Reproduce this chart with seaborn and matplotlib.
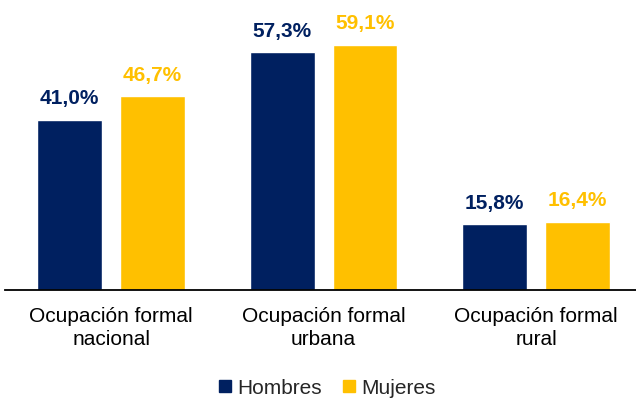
import matplotlib
matplotlib.use("Agg")
import matplotlib.pyplot as plt
from matplotlib.lines import Line2D
import seaborn as sns
import pandas as pd

categories = ["Ocupación formal\nnacional", "Ocupación formal\nurbana", "Ocupación formal\nrural"]
hombres = [41.0, 57.3, 15.8]
mujeres = [46.7, 59.1, 16.4]
series = ["Hombres", "Mujeres"]
colors = ["#002060", "#FFC000"]

df = pd.DataFrame({
    "categoria": categories * 2,
    "valor": hombres + mujeres,
    "sexo": [series[0]] * 3 + [series[1]] * 3,
})

sns.set_theme(style="white")
plt.rcParams["font.family"] = ["Liberation Sans", "DejaVu Sans"]

W, H = 636, 401
fig = plt.figure(figsize=(W / 100, H / 100), dpi=100)
ymax = 68
px_per_unit = 4.146
ax = fig.add_axes([5 / W, 1 - 290 / H, 1 - 5 / W, ymax * px_per_unit / H])

sns.barplot(data=df, x="categoria", y="valor", hue="sexo", palette=colors,
            width=0.78, gap=0.22, ax=ax, legend=False, saturation=1)

for container, col in zip(ax.containers, colors):
    labels = [f"{v:.1f}%".replace(".", ",") for v in container.datavalues]
    ax.bar_label(container, labels=labels, padding=8.5, color=col,
                 fontsize=15, fontweight="bold")

ax.set_xlim(-0.5, 2.47)
ax.set_ylim(0, ymax)
ax.set_xlabel("")
ax.set_ylabel("")
ax.set_yticks([])
ax.tick_params(axis="x", length=0, pad=12, labelsize=15, colors="black")
for t in ax.get_xticklabels():
    t.set_linespacing(1.3)
for s in ["top", "right", "left"]:
    ax.spines[s].set_visible(False)
ax.spines["bottom"].set_color("black")
ax.spines["bottom"].set_linewidth(1.3)

handles = [Line2D([], [], marker="s", linestyle="none", markersize=8,
                  markerfacecolor=c, markeredgecolor=c) for c in colors]
fig.legend(handles, series, loc="center", bbox_to_anchor=(327 / W, 1 - 388 / H),
           ncol=2, frameon=False, fontsize=15, handletextpad=0.3,
           columnspacing=1.0, handlelength=0.6, borderpad=0, borderaxespad=0)

fig.savefig("out.png", dpi=100)
